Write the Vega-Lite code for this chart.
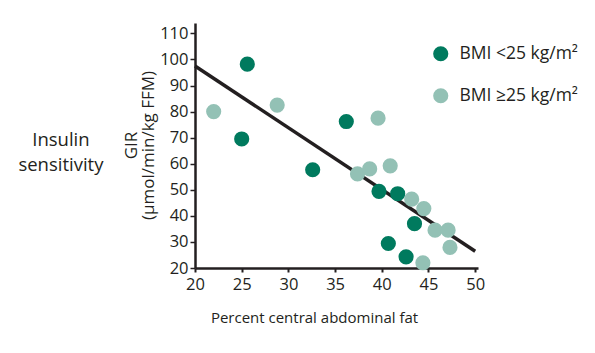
{
  "$schema": "https://vega.github.io/schema/vega-lite/v6.json",
  "autosize": "none",
  "width": 283,
  "height": 245,
  "padding": {"left": 195, "top": 23, "right": 117, "bottom": 85},
  "background": "white",
  "config": {
    "font": "Open Sans",
    "view": {"stroke": null},
    "axis": {"labelFont": "Open Sans", "titleFont": "Open Sans", "labelColor": "#231f20", "titleColor": "#231f20", "domainColor": "#231f20", "tickColor": "#231f20", "grid": false}
  },
  "title": {
    "text": ["Insulin", "sensitivity"],
    "orient": "left",
    "angle": 0,
    "anchor": "middle",
    "baseline": "middle",
    "fontSize": 18.5,
    "fontWeight": "normal",
    "font": "Open Sans",
    "color": "#231f20",
    "lineHeight": 25,
    "offset": -24,
    "dy": -6
  },
  "datasets": {
    "points": [
      {"fat": 25.6, "gir": 98.2, "group": "BMI <25 kg/m²"},
      {"fat": 25.0, "gir": 69.5, "group": "BMI <25 kg/m²"},
      {"fat": 32.6, "gir": 57.7, "group": "BMI <25 kg/m²"},
      {"fat": 36.2, "gir": 76.2, "group": "BMI <25 kg/m²"},
      {"fat": 39.7, "gir": 49.4, "group": "BMI <25 kg/m²"},
      {"fat": 41.7, "gir": 48.5, "group": "BMI <25 kg/m²"},
      {"fat": 43.5, "gir": 37.0, "group": "BMI <25 kg/m²"},
      {"fat": 40.7, "gir": 29.4, "group": "BMI <25 kg/m²"},
      {"fat": 42.6, "gir": 24.3, "group": "BMI <25 kg/m²"},
      {"fat": 22.0, "gir": 80.0, "group": "BMI ≥25 kg/m²"},
      {"fat": 28.8, "gir": 82.5, "group": "BMI ≥25 kg/m²"},
      {"fat": 39.6, "gir": 77.5, "group": "BMI ≥25 kg/m²"},
      {"fat": 37.4, "gir": 56.1, "group": "BMI ≥25 kg/m²"},
      {"fat": 38.7, "gir": 58.0, "group": "BMI ≥25 kg/m²"},
      {"fat": 40.9, "gir": 59.2, "group": "BMI ≥25 kg/m²"},
      {"fat": 43.2, "gir": 46.4, "group": "BMI ≥25 kg/m²"},
      {"fat": 44.5, "gir": 42.8, "group": "BMI ≥25 kg/m²"},
      {"fat": 45.7, "gir": 34.5, "group": "BMI ≥25 kg/m²"},
      {"fat": 47.1, "gir": 34.5, "group": "BMI ≥25 kg/m²"},
      {"fat": 47.3, "gir": 27.9, "group": "BMI ≥25 kg/m²"},
      {"fat": 44.4, "gir": 22.0, "group": "BMI ≥25 kg/m²"}
    ],
    "fit": [
      {"fat": 20, "gir": 97.5},
      {"fat": 50, "gir": 26.4}
    ]
  },
  "encoding": {
    "x": {
      "field": "fat", "type": "quantitative",
      "scale": {"domain": [20, 50.3], "nice": false, "zero": false},
      "axis": {
        "title": "Percent central abdominal fat",
        "values": [20, 25, 30, 35, 40, 45, 50],
        "labelFontSize": 16.5, "titleFontSize": 15, "titleFontWeight": "normal",
        "domainWidth": 2.5, "tickWidth": 2, "tickSize": 4, "labelPadding": 4,
        "titlePadding": 18, "titleX": 119, "labelFlush": false
      }
    },
    "y": {
      "field": "gir", "type": "quantitative",
      "scale": {"domain": [20, 114], "nice": false, "zero": false},
      "axis": {
        "title": ["GIR", "(µmol/min/kg FFM)"],
        "values": [20, 30, 40, 50, 60, 70, 80, 90, 100, 110],
        "labelFontSize": 16.5, "titleFontSize": 17, "titleFontWeight": "normal",
        "titleLineHeight": 17,
        "domainWidth": 2.5, "tickWidth": 1.5, "tickSize": 5, "labelPadding": 2,
        "titleX": -64, "titleY": 122, "titleAnchor": "middle", "titleAlign": "center", "titleBaseline": "middle",
        "labelFlush": false
      }
    }
  },
  "layer": [
    {
      "data": {"name": "fit"},
      "mark": {"type": "line", "color": "#231f20", "strokeWidth": 3.5},
      "encoding": {}
    },
    {
      "data": {"name": "points"},
      "mark": {"type": "circle", "size": 230, "opacity": 1},
      "encoding": {
        "color": {
          "field": "group", "type": "nominal",
          "scale": {"domain": ["BMI <25 kg/m²", "BMI ≥25 kg/m²"], "range": ["#007a5e", "#93c1b5"]},
          "legend": {
            "title": null,
            "orient": "none",
            "legendX": 237,
            "legendY": 22,
            "symbolSize": 230,
            "symbolType": "circle",
            "symbolOpacity": 1,
            "symbolStrokeWidth": 0,
            "labelFontSize": 17.5,
            "labelFont": "Open Sans",
            "labelColor": "#231f20",
            "labelOffset": 10,
            "rowPadding": 23
          }
        }
      }
    }
  ]
}
